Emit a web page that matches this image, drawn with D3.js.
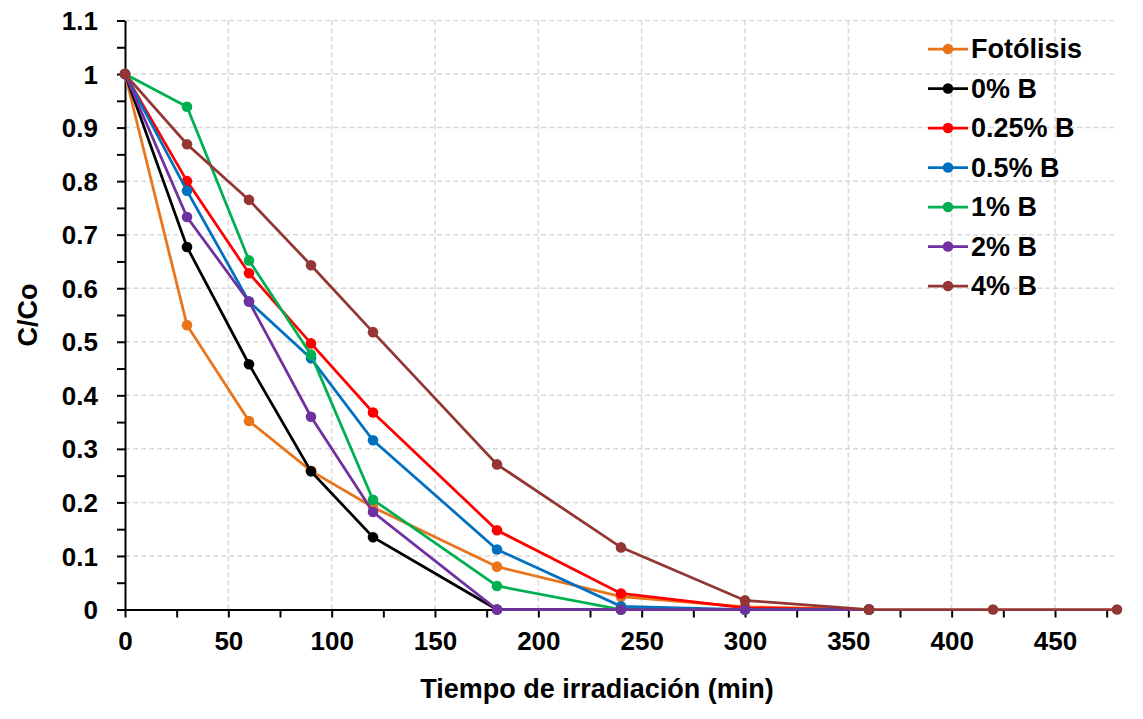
<!DOCTYPE html>
<html>
<head>
<meta charset="utf-8">
<script src="https://cdn.jsdelivr.net/npm/d3@7"></script>
<style>
  body { margin: 0; background: #fff; }
  text { font-family: "Liberation Sans", Arial, sans-serif; font-weight: bold; fill: #000; }
</style>
</head>
<body>
<div id="chart"></div>
<script>
const width = 1143;
const height = 719;

// tiempo de irradiación (min)
const times = [0, 30, 60, 90, 120, 180, 240, 300, 360, 420, 480];

const fotolisis = [1, 0.531, 0.352, 0.259, 0.191, 0.080, 0.024, 0.005, 0];
const b0 = [1, 0.677, 0.458, 0.258, 0.135, 0, 0, 0, 0];
const b025 = [1, 0.800, 0.628, 0.497, 0.368, 0.148, 0.030, 0.003, 0];
const b05 = [1, 0.782, 0.575, 0.469, 0.316, 0.112, 0.006, 0, 0];
const b1 = [1, 0.939, 0.652, 0.476, 0.205, 0.044, 0, 0, 0];
const b2 = [1, 0.733, 0.575, 0.360, 0.182, 0, 0, 0, 0];
const b4 = [1, 0.869, 0.765, 0.643, 0.518, 0.271, 0.116, 0.017, 0, 0, 0];

const seriesNames = ['Fotólisis', '0% B', '0.25% B', '0.5% B', '1% B', '2% B', '4% B'];
const seriesValues = [fotolisis, b0, b025, b05, b1, b2, b4];
const seriesColors = ['#E97419', '#000000', '#FF0000', '#0070C0', '#00B050', '#7030A0', '#943634'];

const xTicks = [0, 50, 100, 150, 200, 250, 300, 350, 400, 450];
const yTicks = [0, 0.1, 0.2, 0.3, 0.4, 0.5, 0.6, 0.7, 0.8, 0.9, 1, 1.1];

const margin = { left: 125, right: 26, top: 20.5, bottom: 109.5 };
const tickFont = '26px';
const labelFont = '27px';

const x = d3.scaleLinear().domain([0, 480]).range([margin.left, width - margin.right]);
const y = d3.scaleLinear().domain([0, 1.1]).range([height - margin.bottom, margin.top]);

const svg = d3.select('#chart')
    .append('svg')
    .attr('width', width)
    .attr('height', height);

// grid lines
svg.append('g')
    .selectAll('line')
    .data(yTicks.filter(d => d > 0))
    .enter()
    .append('line')
    .attr('x1', x(0)).attr('x2', x(480))
    .attr('y1', d => y(d)).attr('y2', d => y(d))
    .attr('stroke', '#d9d9d9')
    .attr('stroke-width', 1.5)
    .attr('stroke-dasharray', '5,3');

svg.append('g')
    .selectAll('line')
    .data(xTicks.filter(d => d > 0))
    .enter()
    .append('line')
    .attr('x1', d => x(d)).attr('x2', d => x(d))
    .attr('y1', y(1.1)).attr('y2', y(0))
    .attr('stroke', '#d9d9d9')
    .attr('stroke-width', 1.5)
    .attr('stroke-dasharray', '5,3');

// minor ticks
const xMinor = d3.range(25, 480, 50);
const yMinor = d3.range(0.05, 1.1, 0.1);

const xAxis = svg.append('g')
    .attr('transform', `translate(0,${y(0)})`)
    .call(d3.axisBottom(x).tickValues(xTicks).tickSize(8).tickSizeOuter(0).tickPadding(10).tickFormat(d3.format('d')));
xAxis.append('g')
    .call(d3.axisBottom(x).tickValues(xMinor).tickSize(8).tickFormat(''))
    .select('.domain').remove();

const yAxis = svg.append('g')
    .attr('transform', `translate(${x(0)},0)`)
    .call(d3.axisLeft(y).tickValues(yTicks).tickSize(8).tickSizeOuter(0).tickPadding(19).tickFormat(d => d3.format('~g')(d)));
yAxis.append('g')
    .call(d3.axisLeft(y).tickValues(yMinor).tickSize(8).tickFormat(''))
    .select('.domain').remove();

svg.selectAll('.domain').attr('stroke', '#000').attr('stroke-width', 2);
svg.selectAll('.tick line').attr('stroke', '#000').attr('stroke-width', 2);
svg.selectAll('.tick text')
    .style('font-size', tickFont)
    .style('font-family', '"Liberation Sans", Arial, sans-serif')
    .style('font-weight', 'bold')
    .attr('fill', '#000');
xAxis.selectAll('.tick text').attr('dy', '0.85em');
yAxis.selectAll('.tick text').attr('dy', '0.35em');

// series
const lineGen = d3.line()
    .x(d => x(d[0]))
    .y(d => y(d[1]));

seriesValues.forEach((vals, i) => {
    const pts = vals.map((v, j) => [times[j], v]);
    const g = svg.append('g');
    g.append('path')
        .datum(pts)
        .attr('d', lineGen)
        .attr('fill', 'none')
        .attr('stroke', seriesColors[i])
        .attr('stroke-width', 2.75);
    g.selectAll('circle')
        .data(pts)
        .enter()
        .append('circle')
        .attr('cx', d => x(d[0]))
        .attr('cy', d => y(d[1]))
        .attr('r', 5.3)
        .attr('fill', seriesColors[i]);
});

// legend
const legend = svg.append('g').attr('transform', 'translate(928,49)');
seriesNames.forEach((name, i) => {
    const row = legend.append('g').attr('transform', `translate(0,${i * 39.5})`);
    row.append('line')
        .attr('x1', 0).attr('x2', 40)
        .attr('y1', 0).attr('y2', 0)
        .attr('stroke', seriesColors[i])
        .attr('stroke-width', 2.75);
    row.append('circle')
        .attr('cx', 20).attr('cy', 0).attr('r', 5.3)
        .attr('fill', seriesColors[i]);
    row.append('text')
        .attr('x', 43).attr('y', 0)
        .attr('dy', '0.35em')
        .style('font-size', labelFont)
        .text(name);
});

// axis titles
svg.append('text')
    .attr('x', 597)
    .attr('y', 698)
    .attr('text-anchor', 'middle')
    .style('font-size', labelFont)
    .text('Tiempo de irradiación (min)');

svg.append('text')
    .attr('transform', `translate(37,${(y(0) + y(1.1)) / 2})rotate(-90)`)
    .attr('text-anchor', 'middle')
    .style('font-size', labelFont)
    .text('C/Co');
</script>
</body>
</html>
